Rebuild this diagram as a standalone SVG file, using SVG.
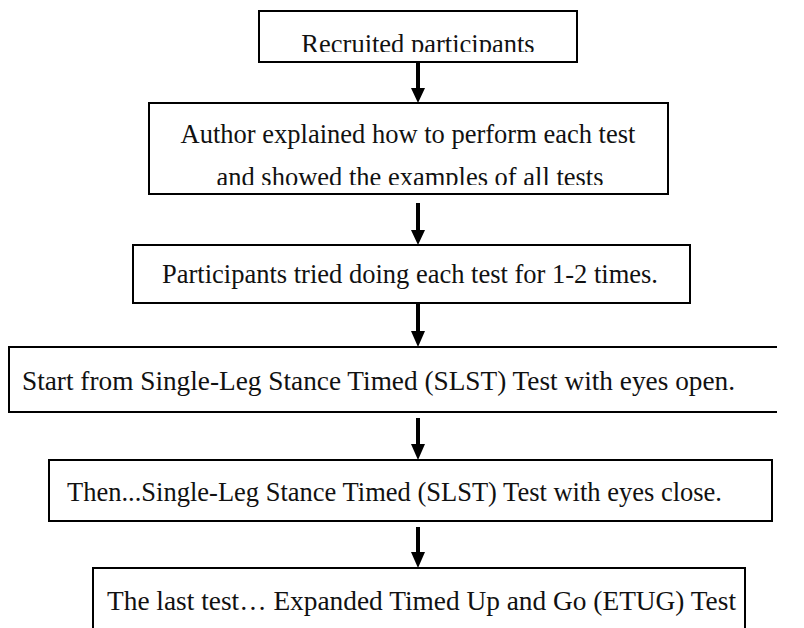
<svg xmlns="http://www.w3.org/2000/svg" width="804" height="628" viewBox="0 0 804 628">
<style>
.box{fill:#fff;stroke:#000;stroke-width:2}
.shaft{stroke:#000;stroke-width:4}
</style>
<defs>
<clipPath id="c1"><rect x="259" y="11" width="318" height="41"/></clipPath>
<clipPath id="c2"><rect x="149" y="103" width="519" height="82"/></clipPath>
</defs>
<rect width="804" height="628" fill="#fff"/>
<g id="connectors">
<path class="shaft" d="M418,62 V90"/><path d="M411,88 H425 L418,103 Z"/>
<path class="shaft" d="M418,203 V232"/><path d="M411,230 H425 L418,245 Z"/>
<path class="shaft" d="M418,303 V333"/><path d="M411,331 H425 L418,347 Z"/>
<path class="shaft" d="M418,418 V446"/><path d="M411,444 H425 L418,460 Z"/>
<path class="shaft" d="M418,527 V554"/><path d="M411,552 H425 L418,568 Z"/>
</g>
<g font-family="Liberation Serif, 'Times New Roman', serif" font-size="26.5" fill="#111">
<g id="n1"><rect class="box" x="259" y="11" width="318" height="51"/><text x="418" y="53" text-anchor="middle" clip-path="url(#c1)">Recruited participants</text></g>
<g id="n2"><rect class="box" x="149" y="103" width="519" height="91"/><g clip-path="url(#c2)"><text x="408" y="143" text-anchor="middle">Author explained how to perform each test</text><text x="410" y="186" text-anchor="middle">and showed the examples of all tests</text></g></g>
<g id="n3"><rect class="box" x="133" y="245" width="557" height="58"/><text x="410" y="283" text-anchor="middle">Participants tried doing each test for 1-2 times.</text></g>
<g id="n4"><path class="box" d="M777,347 H9 V412 H777"/><text x="22" y="390" textLength="713" lengthAdjust="spacingAndGlyphs">Start from Single-Leg Stance Timed (SLST) Test with eyes open.</text></g>
<g id="n5"><rect class="box" x="49" y="460" width="723" height="61"/><text x="67" y="501" textLength="655" lengthAdjust="spacingAndGlyphs">Then...Single-Leg Stance Timed (SLST) Test with eyes close.</text></g>
<g id="n6"><rect class="box" x="93" y="568" width="652" height="70"/><text x="107" y="610" textLength="629" lengthAdjust="spacingAndGlyphs">The last test… Expanded Timed Up and Go (ETUG) Test</text></g>
</g>
</svg>
